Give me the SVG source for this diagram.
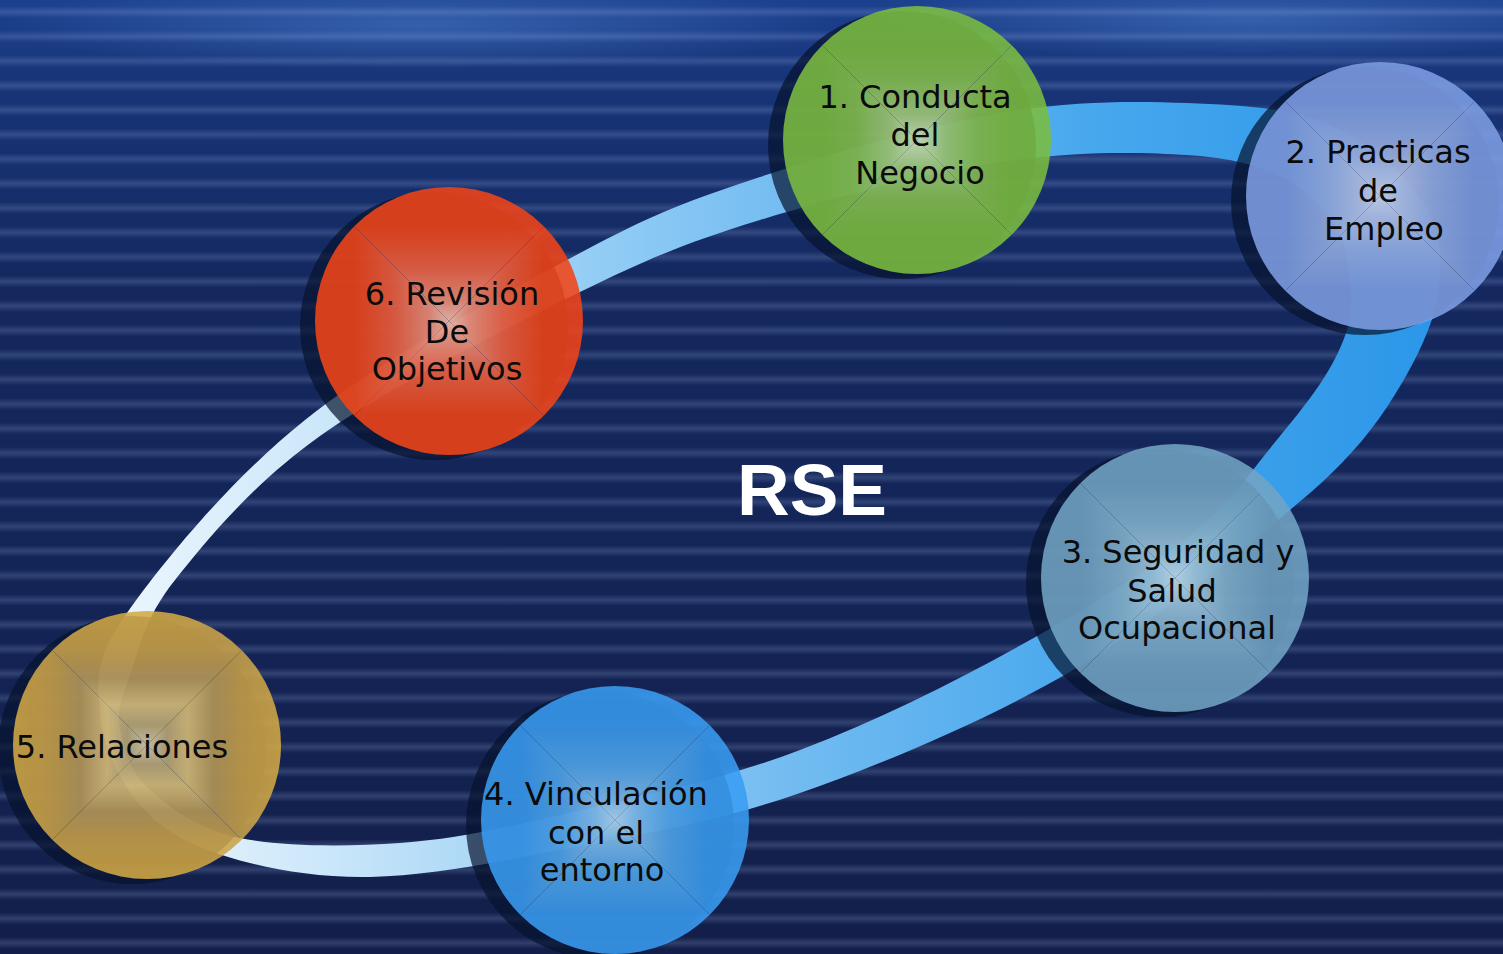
<svg xmlns="http://www.w3.org/2000/svg" width="1503" height="954" viewBox="0 0 1503 954">
<defs>
<style>
.lbl{font-family:"DejaVu Sans",Verdana,sans-serif;font-size:32px;fill:#0b0b0b;text-anchor:middle}
.ttl{font-family:"Liberation Sans",Arial,sans-serif;font-weight:bold;font-size:73px;fill:#ffffff;text-anchor:middle}
.shd{fill:#06132e;opacity:0.7}
.disc{opacity:0.88}
</style>
<linearGradient id="bg" x1="0" y1="0" x2="0" y2="1">
<stop offset="0" stop-color="#1d418f"/>
<stop offset="0.08" stop-color="#183579"/>
<stop offset="0.3" stop-color="#14285f"/>
<stop offset="1" stop-color="#131f4a"/>
</linearGradient>
<linearGradient id="stripeG" x1="0" y1="0" x2="0" y2="1">
<stop offset="0" stop-color="#a8c0f0" stop-opacity="0"/>
<stop offset="0.5" stop-color="#a8c0f0" stop-opacity="0.2"/>
<stop offset="1" stop-color="#a8c0f0" stop-opacity="0"/>
</linearGradient>
<pattern id="stripes" patternUnits="userSpaceOnUse" width="1503" height="24.5">
<rect x="0" y="6" width="1503" height="12" fill="url(#stripeG)"/>
</pattern>
<radialGradient id="glow" cx="0.5" cy="0.5" r="0.5">
<stop offset="0" stop-color="#4f82d0" stop-opacity="0.5"/>
<stop offset="1" stop-color="#4f82d0" stop-opacity="0"/>
</radialGradient>
<linearGradient id="bandG" gradientUnits="userSpaceOnUse" x1="100" y1="0" x2="1440" y2="0">
<stop offset="0" stop-color="#eef7fd"/>
<stop offset="0.15" stop-color="#d0e9fa"/>
<stop offset="0.37" stop-color="#93cdf5"/>
<stop offset="0.52" stop-color="#72bbf1"/>
<stop offset="0.75" stop-color="#46a7ed"/>
<stop offset="1" stop-color="#2b96e8"/>
</linearGradient>
<clipPath id="cc"><circle cx="0" cy="0" r="134"/></clipPath>
<polygon id="tri" points="-134,-134 134,-134 0,0"/>
<linearGradient id="g1" x1="0" y1="0" x2="0" y2="1">
<stop offset="0" stop-color="#7cbe40"/><stop offset="0.3" stop-color="#7cbe40"/><stop offset="0.55" stop-color="#86c050"/><stop offset="0.8" stop-color="#a2cc7c"/><stop offset="1" stop-color="#d2e8bc"/>
</linearGradient>
<linearGradient id="g2" x1="0" y1="0" x2="0" y2="1">
<stop offset="0" stop-color="#7e9ee4"/><stop offset="0.3" stop-color="#7e9ee4"/><stop offset="0.6" stop-color="#94aee6"/><stop offset="0.85" stop-color="#b4c4ec"/><stop offset="1" stop-color="#d0daf4"/>
</linearGradient>
<linearGradient id="g3" x1="0" y1="0" x2="0" y2="1">
<stop offset="0" stop-color="#72a4c4"/><stop offset="0.3" stop-color="#72a4c4"/><stop offset="0.6" stop-color="#84b4d0"/><stop offset="0.85" stop-color="#a4cce4"/><stop offset="1" stop-color="#c4e2f2"/>
</linearGradient>
<linearGradient id="g4" x1="0" y1="0" x2="0" y2="1">
<stop offset="0" stop-color="#3a9cf2"/><stop offset="0.3" stop-color="#3a9cf2"/><stop offset="0.6" stop-color="#52a8ee"/><stop offset="0.85" stop-color="#80bff0"/><stop offset="1" stop-color="#b0d6f4"/>
</linearGradient>
<linearGradient id="g5" x1="0" y1="0" x2="0" y2="1">
<stop offset="0" stop-color="#d4aa44"/><stop offset="0.3" stop-color="#c9a24a"/><stop offset="0.5" stop-color="#b89a5a"/><stop offset="0.7" stop-color="#dcc27c"/><stop offset="0.85" stop-color="#bcaa78"/><stop offset="1" stop-color="#dcd2ac"/>
</linearGradient>
<linearGradient id="g6" x1="0" y1="0" x2="0" y2="1">
<stop offset="0" stop-color="#f24518"/><stop offset="0.3" stop-color="#f24518"/><stop offset="0.6" stop-color="#f26242"/><stop offset="0.85" stop-color="#f2907a"/><stop offset="1" stop-color="#f8c4b2"/>
</linearGradient>
</defs>

<rect x="0" y="0" width="1503" height="954" fill="url(#bg)"/>
<ellipse cx="420" cy="25" rx="420" ry="45" fill="url(#glow)"/>
<ellipse cx="1250" cy="20" rx="380" ry="40" fill="url(#glow)"/>
<rect x="0" y="0" width="1503" height="954" fill="url(#stripes)"/>

<g id="connectors">
<path fill="url(#bandG)" fill-rule="evenodd" d="M100,712 C97.8,680 92.8,661.7 127,613 C161.2,564.3 229.5,480 305,420 C380.5,360 504.2,293.5 580,253 C655.8,212.5 690,200.3 760,177 C830,153.7 928.8,125.3 1000,113 C1071.2,100.7 1132,101 1187,103 C1242,105 1290.3,108 1330,125 C1369.7,142 1407.2,175.8 1425,205 C1442.8,234.2 1443.3,266.3 1437,300 C1430.7,333.7 1407.9,375.3 1387,407 C1366.1,438.7 1338.9,468.3 1310,493 C1249.2,545 1158.3,619.8 1073,670 C991,718.2 885.5,763 800,793 C714.5,823 631.7,836 560,850 C488.3,864 425.8,876 370,877 C314.2,878 263.3,868 225,856 C186.7,844 160.8,829 140,805 C119.2,781 102.2,744 100,712 Z M120,730 C116.7,710.8 120.8,700 130,675 C139.2,650 143.3,619.8 175,580 C206.7,540.2 252.5,484 320,436 C387.5,388 506.7,328 580,292 C653.3,256 690,241.7 760,220 C830,198.3 928.8,172.8 1000,162 C1071.2,151.2 1138.7,151.7 1187,155 C1235.3,158.3 1263.7,166.2 1290,182 C1316.3,197.8 1339.7,223.5 1345,250 C1350.3,276.5 1355.1,304.3 1347,330 C1330.2,383.2 1286.6,425.2 1253,470 C1202,538 1127,584.5 1053,627 C971.2,674 887.8,716.5 800,750 C717.8,781.3 626.7,799.5 560,815 C493.3,830.5 453.3,839.2 400,843 C346.7,846.8 281.7,846.8 240,838 C198.3,829.2 170,808 150,790 C130,772 123.3,749.2 120,730 Z"/>
</g>

<g id="node1">
<g transform="translate(917,140)">
<circle class="shd" cx="-15" cy="5" r="134"/>
<g class="disc" clip-path="url(#cc)">
<use href="#tri" fill="url(#g1)"/>
<use href="#tri" fill="url(#g1)" transform="rotate(90)"/>
<use href="#tri" fill="url(#g1)" transform="rotate(180)"/>
<use href="#tri" fill="url(#g1)" transform="rotate(270)"/>
</g>
</g>
<text class="lbl"><tspan x="915" y="108">1. Conducta</tspan><tspan x="915" y="146">del</tspan><tspan x="920" y="184">Negocio</tspan></text>
</g>

<g id="node2">
<g transform="translate(1380,196)">
<circle class="shd" cx="-15" cy="5" r="134"/>
<g class="disc" clip-path="url(#cc)">
<use href="#tri" fill="url(#g2)"/>
<use href="#tri" fill="url(#g2)" transform="rotate(90)"/>
<use href="#tri" fill="url(#g2)" transform="rotate(180)"/>
<use href="#tri" fill="url(#g2)" transform="rotate(270)"/>
</g>
</g>
<text class="lbl"><tspan x="1378" y="163">2. Practicas</tspan><tspan x="1378" y="202">de</tspan><tspan x="1384" y="240">Empleo</tspan></text>
</g>

<g id="node3">
<g transform="translate(1175,578)">
<circle class="shd" cx="-15" cy="5" r="134"/>
<g class="disc" clip-path="url(#cc)">
<use href="#tri" fill="url(#g3)"/>
<use href="#tri" fill="url(#g3)" transform="rotate(90)"/>
<use href="#tri" fill="url(#g3)" transform="rotate(180)"/>
<use href="#tri" fill="url(#g3)" transform="rotate(270)"/>
</g>
</g>
<text class="lbl"><tspan x="1178" y="563">3. Seguridad y</tspan><tspan x="1172" y="602">Salud</tspan><tspan x="1177" y="639">Ocupacional</tspan></text>
</g>

<g id="node4">
<g transform="translate(615,820)">
<circle class="shd" cx="-15" cy="5" r="134"/>
<g class="disc" clip-path="url(#cc)">
<use href="#tri" fill="url(#g4)"/>
<use href="#tri" fill="url(#g4)" transform="rotate(90)"/>
<use href="#tri" fill="url(#g4)" transform="rotate(180)"/>
<use href="#tri" fill="url(#g4)" transform="rotate(270)"/>
</g>
</g>
<text class="lbl"><tspan x="596" y="805">4. Vinculación</tspan><tspan x="596" y="844">con el</tspan><tspan x="602" y="881">entorno</tspan></text>
</g>

<g id="node5">
<g transform="translate(147,745)">
<circle class="shd" cx="-15" cy="5" r="134"/>
<g class="disc" clip-path="url(#cc)">
<use href="#tri" fill="url(#g5)"/>
<use href="#tri" fill="url(#g5)" transform="rotate(90)"/>
<use href="#tri" fill="url(#g5)" transform="rotate(180)"/>
<use href="#tri" fill="url(#g5)" transform="rotate(270)"/>
</g>
</g>
<text class="lbl" x="122" y="758">5. Relaciones</text>
</g>

<g id="node6">
<g transform="translate(449,321)">
<circle class="shd" cx="-15" cy="5" r="134"/>
<g class="disc" clip-path="url(#cc)">
<use href="#tri" fill="url(#g6)"/>
<use href="#tri" fill="url(#g6)" transform="rotate(90)"/>
<use href="#tri" fill="url(#g6)" transform="rotate(180)"/>
<use href="#tri" fill="url(#g6)" transform="rotate(270)"/>
</g>
</g>
<text class="lbl"><tspan x="452" y="305">6. Revisión</tspan><tspan x="447" y="343">De</tspan><tspan x="447" y="380">Objetivos</tspan></text>
</g>

<g id="title">
<text class="ttl" x="812" y="515">RSE</text>
</g>
</svg>
